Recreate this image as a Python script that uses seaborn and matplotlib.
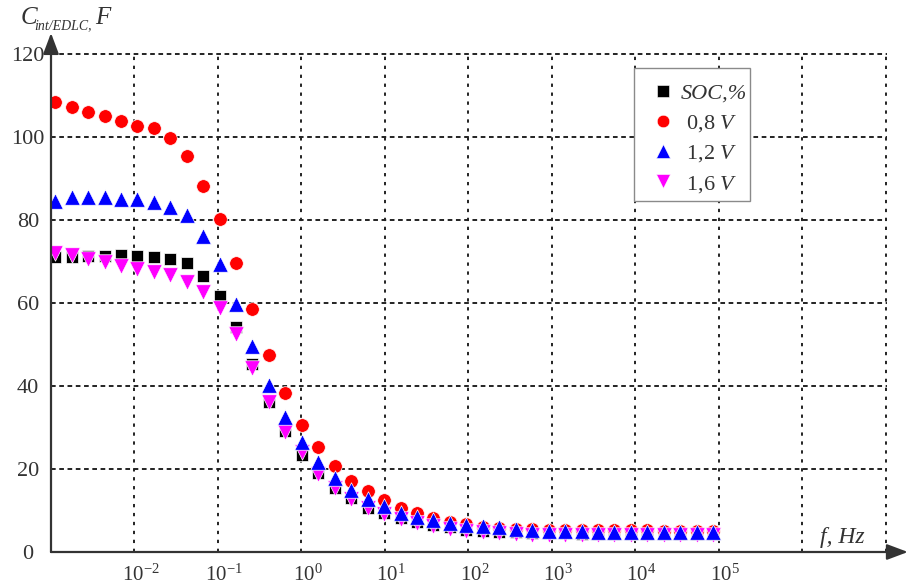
import matplotlib
matplotlib.use("Agg")
import matplotlib.pyplot as plt
import pandas as pd
import seaborn as sns
from matplotlib.lines import Line2D
from matplotlib.patches import Rectangle
from matplotlib.ticker import FixedLocator, NullLocator
from matplotlib.transforms import ScaledTranslation

# measurement frequencies, Hz
freq_hz = [0.00112, 0.00177, 0.00278, 0.00438, 0.00689, 0.0108, 0.0171, 0.0269,
           0.0423, 0.0665, 0.105, 0.165, 0.259, 0.408, 0.643, 1.01, 1.59, 2.51,
           3.95, 6.21, 9.77, 15.4, 24.2, 38.1, 60.0, 94.4, 149, 234, 368, 579,
           912, 1435, 2259, 3556, 5598, 8810, 13868, 21827, 34356, 54075, 85114]

# capacitance, F
c_soc = [71.0, 71.0, 71.3, 71.3, 71.4, 71.3, 71.0, 70.6, 69.5, 66.5,
         61.7, 54.2, 45.3, 36.2, 29.1, 23.3, 19.0, 15.3, 12.9, 10.5,
         9.3, 8.3, 7.3, 6.5, 5.9, 5.4, 5.1, 4.9, 4.7, 4.6,
         4.5, 4.5, 4.4, 4.4, 4.4, 4.4, 4.4, 4.4, 4.4, 4.4, 4.4]
c_08v = [108.3, 107.1, 105.9, 105.0, 103.7, 102.7, 102.2, 99.7, 95.4, 88.2,
         80.2, 69.7, 58.5, 47.5, 38.2, 30.7, 25.2, 20.7, 17.0, 14.7,
         12.5, 10.5, 9.3, 8.1, 7.3, 6.7, 6.1, 5.8, 5.6, 5.5,
         5.4, 5.3, 5.3, 5.2, 5.2, 5.2, 5.2, 5.1, 5.1, 5.1, 5.1]
c_12v = [84.5, 85.4, 85.4, 85.4, 85.1, 84.9, 84.3, 83.0, 81.1, 76.0,
         69.4, 59.8, 49.7, 40.3, 32.5, 26.5, 21.7, 17.9, 14.9, 12.7,
         11.0, 9.3, 8.5, 7.8, 7.0, 6.5, 6.2, 5.9, 5.6, 5.3,
         5.1, 5.0, 5.0, 4.9, 4.9, 4.9, 4.9, 4.9, 4.9, 4.9, 4.9]
c_16v = [72.1, 71.5, 70.5, 69.9, 68.8, 68.2, 67.4, 66.6, 65.0, 62.7,
         58.7, 52.5, 44.3, 36.1, 28.9, 24.1, 18.9, 15.3, 12.7, 10.7,
         9.2, 7.9, 6.9, 6.2, 5.5, 5.0, 4.7, 4.5, 4.3, 4.2,
         4.1, 4.1, 4.1, 4.0, 4.0, 4.0, 4.0, 4.0, 4.0, 4.0, 4.0]

legend_labels = ["SOC,%", " 0,8 $V$", " 1,2 $V$", " 1,6 $V$"]
x_ticks = [1e-2, 1e-1, 1e0, 1e1, 1e2, 1e3, 1e4, 1e5, 1e6, 1e7]
x_tick_labels = [r"$\mathregular{10^{-2}}$", r"$\mathregular{10^{-1}}$",
                 r"$\mathregular{10^{0}}$", r"$\mathregular{10^{1}}$",
                 r"$\mathregular{10^{2}}$", r"$\mathregular{10^{3}}$",
                 r"$\mathregular{10^{4}}$", r"$\mathregular{10^{5}}$", "", ""]
y_ticks = [0, 20, 40, 60, 80, 100, 120]

sns.set_theme(style="white")
plt.rcParams["font.family"] = ["Liberation Serif", "DejaVu Serif"]
plt.rcParams["mathtext.fontset"] = "custom"
plt.rcParams["mathtext.rm"] = "Liberation Serif"
plt.rcParams["mathtext.it"] = "Liberation Serif:italic"

TEXT = "#333333"
W, H = 910, 585

fig = plt.figure(figsize=(9.1, 5.85), dpi=100)
ax = fig.add_axes([51 / W, 33 / H, 836 / W, 500 / H])

# draw order: black, red, magenta, blue (blue ends up on top)
series = [
    (c_soc, "black", "s", 76),
    (c_08v, "red", "o", 96),
    (c_16v, "magenta", "v", 124),
    (c_12v, "blue", "^", 124),
]
for vals, color, marker, size in series:
    df = pd.DataFrame({"f": freq_hz, "C": vals})
    sns.scatterplot(data=df, x="f", y="C", ax=ax, color=color, marker=marker,
                    s=size, edgecolor="white", linewidth=0.5, zorder=3,
                    legend=False)

ax.set_xscale("log")
ax.set_xlim(1e-3, 1.03e7)
ax.set_ylim(0, 120.4)
ax.xaxis.set_major_locator(FixedLocator(x_ticks))
ax.xaxis.set_minor_locator(NullLocator())
ax.set_xticklabels(x_tick_labels)
ax.set_yticks(y_ticks)
ax.set_xlabel("")
ax.set_ylabel("")
ax.tick_params(axis="x", length=0, pad=9, labelsize=15, colors=TEXT)
ax.tick_params(axis="y", length=0, pad=16.5, labelsize=16, colors=TEXT)
for lbl in ax.get_yticklabels():
    lbl.set_ha("center")
shift = ScaledTranslation(6 / 100, 0, fig.dpi_scale_trans)
for lbl in ax.get_xticklabels():
    lbl.set_transform(lbl.get_transform() + shift)

ax.xaxis.grid(True, color="#222222", lw=1.4, linestyle=(0, (1.7, 2.9)))
ax.yaxis.grid(True, color="#222222", lw=1.4, linestyle=(0, (2.4, 1.85)))
for sp in ax.spines.values():
    sp.set_visible(False)

# axes drawn as arrows
arrow = dict(arrowstyle="-|>,head_length=0.8,head_width=0.3", color=TEXT,
             lw=1.6, shrinkA=0, shrinkB=0, mutation_scale=16)
ax.annotate("", xy=(1.025, 0), xytext=(0, 0), xycoords="axes fraction",
            arrowprops=arrow, annotation_clip=False, zorder=5)
ax.annotate("", xy=(0, 1.038), xytext=(0, 0), xycoords="axes fraction",
            arrowprops=arrow, annotation_clip=False, zorder=5)

# y axis title: C_int/EDLC, F
ty = 1 - 24 / H
fig.text(21 / W, ty, "C", fontsize=18, style="italic", color=TEXT,
         va="baseline", ha="left")
fig.text(34 / W, ty - 5 / H, "int/EDLC,", fontsize=10, style="italic",
         color=TEXT, va="baseline", ha="left")
fig.text(95 / W, ty, "F", fontsize=18, style="italic", color=TEXT,
         va="baseline", ha="left")

fig.text(820 / W, 1 - 538 / H, "f, Hz", fontsize=17, style="italic",
         color=TEXT, va="center", ha="left")

# legend box drawn separately so the text can sit close to its right edge
ax.add_patch(Rectangle((634 / W, 1 - 201 / H), 116 / W, 133 / H,
                       transform=fig.transFigure, facecolor="white",
                       edgecolor="#8a8a8a", lw=1.0, zorder=6, clip_on=False))
handles = [Line2D([], [], ls="none", marker=m, color=c, markersize=ms,
                  markeredgecolor="white", markeredgewidth=0.4)
           for c, m, ms in [("black", "s", 8), ("red", "o", 9),
                            ("blue", "^", 10), ("magenta", "v", 10)]]
leg = ax.legend(handles, legend_labels, loc="upper left",
                bbox_to_anchor=(651 / W, 1 - 83 / H),
                bbox_transform=fig.transFigure, fontsize=16, frameon=False,
                borderaxespad=0, borderpad=0, labelspacing=0.42,
                handletextpad=0.25, handlelength=1.1)
leg.set_zorder(7)
leg.get_texts()[0].set_fontstyle("italic")
for t in leg.get_texts():
    t.set_color(TEXT)

fig.savefig("out.png", dpi=100)
